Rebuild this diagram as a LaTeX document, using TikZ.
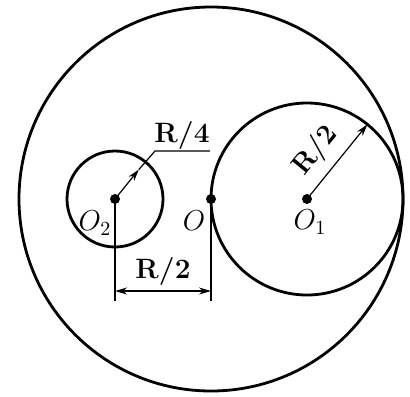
\documentclass[tikz,border=0pt]{standalone}
\usetikzlibrary{arrows.meta,calc}
\begin{document}
\begin{tikzpicture}[x=0.5pt,y=-0.5pt,
  thick circ/.style={line width=1.4pt},
  thin line/.style={line width=0.6pt},
  tip/.style={-{Stealth[length=6pt,width=3.5pt]}},
  dot/.style={circle,fill=black,inner sep=0pt,minimum size=5pt},
  lab/.style={font=\fontsize{14}{16}\selectfont},
  dimlab/.style={font=\fontsize{14}{16}\selectfont\bfseries}]
\useasboundingbox (0,0) rectangle (410,396);
% centres
\coordinate (O) at (211,199);
\coordinate (O1) at (307,199);
\coordinate (O2) at (115,199);
% circles
\draw[thick circ] (O) circle[radius=192];
\draw[thick circ] (O1) circle[radius=96];
\draw[thick circ] (O2) circle[radius=48];
% dots
\node[dot] (dO) at (O) {};
\node[dot] (dO1) at (O1) {};
\node[dot] (dO2) at (O2) {};
% R/4 radius with leader
\coordinate (a4) at ($(O2)+(38*0.629,-38*0.777)$);
\coordinate (k4) at (155,151);
\coordinate (e4) at (210,151);
\draw[thin line,tip] (O2) -- (a4);
\draw[thin line] (a4) -- (k4) -- (e4);
\node[dimlab] (r4) at (182,135) {R/4};
% R/2 radius of O1
\coordinate (a1) at ($(O1)+(96*0.629,-96*0.777)$);
\draw[thin line,tip] (O1) -- (a1);
\node[dimlab,rotate=51,inner sep=1pt] (r2b) at (316,151) {R/2};
% dimension lines
\coordinate (b2) at (115,301);
\coordinate (bO) at (211,301);
\draw[thin line] (O2) -- (b2);
\draw[thin line] (O) -- (bO);
\coordinate (d2) at (115,291);
\coordinate (dO2b) at (211,291);
\draw[thin line,{Stealth[length=6pt,width=3.5pt]}-{Stealth[length=6pt,width=3.5pt]}] (d2) -- (dO2b);
\node[dimlab] (r2) at (163,271) {R/2};
% labels
\node[lab] (lO) at (194,221) {$O$};
\node[lab] (lO1) at (310,222) {$O_1$};
\node[lab] (lO2) at (95,223) {$O_2$};
\end{tikzpicture}
\end{document}
